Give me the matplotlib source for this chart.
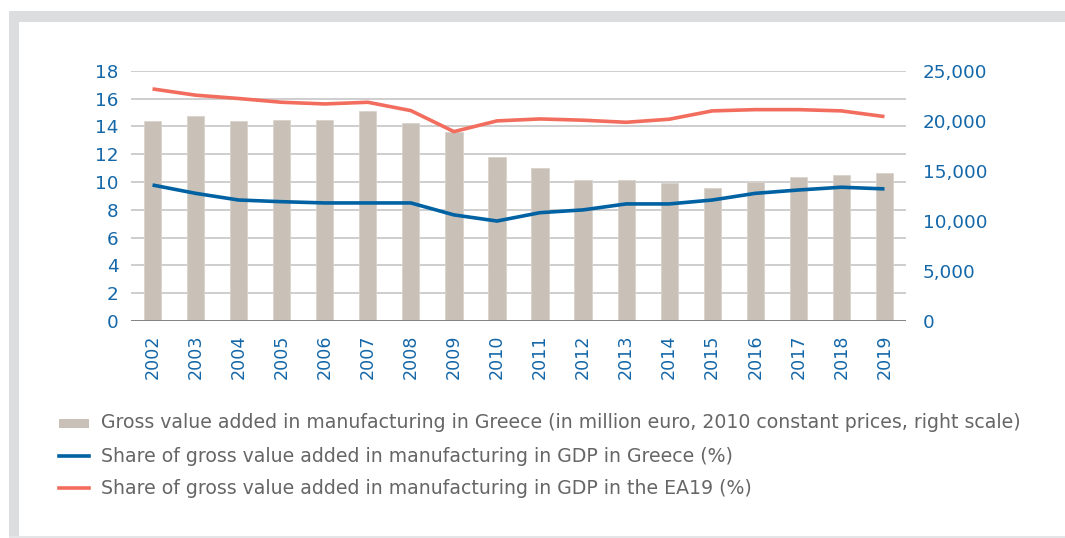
import matplotlib
matplotlib.use("Agg")
import matplotlib.pyplot as plt
from matplotlib.patches import Rectangle
from matplotlib.lines import Line2D

years = ["2002", "2003", "2004", "2005", "2006", "2007", "2008", "2009", "2010",
         "2011", "2012", "2013", "2014", "2015", "2016", "2017", "2018", "2019"]
gva_greece = [19990, 20450, 19950, 20080, 20050, 21010, 19750, 18850, 16350,
              15290, 14120, 14090, 13750, 13290, 13920, 14360, 14620, 14760]
share_greece = [9.78, 9.18, 8.70, 8.58, 8.49, 8.49, 8.49, 7.63, 7.19,
                7.79, 7.99, 8.42, 8.42, 8.70, 9.18, 9.42, 9.62, 9.50]
share_ea19 = [16.69, 16.24, 16.00, 15.73, 15.61, 15.73, 15.13, 13.62, 14.39,
              14.53, 14.44, 14.29, 14.51, 15.11, 15.20, 15.20, 15.11, 14.70]
left_ticks = [0, 2, 4, 6, 8, 10, 12, 14, 16, 18]
right_ticks = [0, 5000, 10000, 15000, 20000, 25000]
labels = ["Gross value added in manufacturing in Greece (in million euro, 2010 constant prices, right scale)",
          "Share of gross value added in manufacturing in GDP in Greece (%)",
          "Share of gross value added in manufacturing in GDP in the EA19 (%)"]

BAR = "#C9C1B7"
BLUE = "#0062A2"
RED = "#F26D5D"
TICK = "#1467A8"
TXT = "#666666"
FRAME = "#DCDDDF"

plt.rcParams['font.family'] = ['DejaVu Sans']
W, H = 1065, 538
fig = plt.figure(figsize=(W / 100, H / 100), dpi=100)

def fx(px):
    return px / W

def fy(py):
    return 1 - py / H

# frame
fig.add_artist(Rectangle((fx(9), fy(22)), 1 - fx(9), fy(11) - fy(22), transform=fig.transFigure,
                         facecolor=FRAME, edgecolor="none"))
fig.add_artist(Rectangle((fx(9), 0), fx(19) - fx(9), fy(22), transform=fig.transFigure,
                         facecolor=FRAME, edgecolor="none"))
fig.add_artist(Rectangle((fx(9), 0), 1 - fx(9), 2 / H, transform=fig.transFigure,
                         facecolor="#E4E5E6", edgecolor="none"))

left, right, top, bottom = 131, 906, 70.7, 321
ax = fig.add_axes([fx(left), fy(bottom), fx(right) - fx(left), fy(top) - fy(bottom)])
x = list(range(len(years)))

ax.set_xlim(-0.5, len(years) - 0.5)
ax.set_ylim(0, 18)
ax.set_yticks(left_ticks)
ax.grid(axis="y", color="#CACACA", linewidth=1.3)
ax.set_axisbelow(True)
for s in ax.spines.values():
    s.set_visible(False)
ax.tick_params(axis="y", length=0, pad=9, labelsize=13.2, labelcolor=TICK)
ax.set_xticks(x)
ax.set_xticklabels(years, rotation=90, fontsize=12.6, color=TICK)
ax.tick_params(axis="x", length=0, pad=10)

ax2 = ax.twinx()
ax2.set_ylim(0, 25000)
ax2.set_yticks(right_ticks)
ax2.set_yticklabels([f"{v:,}" for v in right_ticks])
ax2.tick_params(axis="y", length=0, pad=12, labelsize=13.2, labelcolor=TICK)
for s in ax2.spines.values():
    s.set_visible(False)
ax2.bar(x, gva_greece, width=0.4, color=BAR, edgecolor="#D8D2CB", linewidth=0.6)
ax2.axhline(0, color="#7F7F7F", linewidth=1.3)

ax3 = ax.twinx()
ax3.set_ylim(0, 18)
ax3.set_yticks([])
for s in ax3.spines.values():
    s.set_visible(False)
ax3.plot(x, share_ea19, color=RED, linewidth=2.6, solid_capstyle="butt")
ax3.plot(x, share_greece, color=BLUE, linewidth=2.6, solid_capstyle="butt")

# legend
rows = [423, 456, 488]
fig.add_artist(Rectangle((fx(59), fy(428)), fx(89) - fx(59), fy(419) - fy(428),
                         transform=fig.transFigure, facecolor=BAR, edgecolor="none"))
fig.add_artist(Line2D([fx(59), fx(89)], [fy(rows[1])] * 2, transform=fig.transFigure,
                      color=BLUE, linewidth=2.6))
fig.add_artist(Line2D([fx(59), fx(89)], [fy(rows[2])] * 2, transform=fig.transFigure,
                      color=RED, linewidth=2.6))
for r, lab in zip(rows, labels):
    fig.text(fx(101), fy(r), lab, fontsize=13.6, color=TXT, va="center", ha="left")

fig.savefig("out.png", dpi=100, facecolor="white")
